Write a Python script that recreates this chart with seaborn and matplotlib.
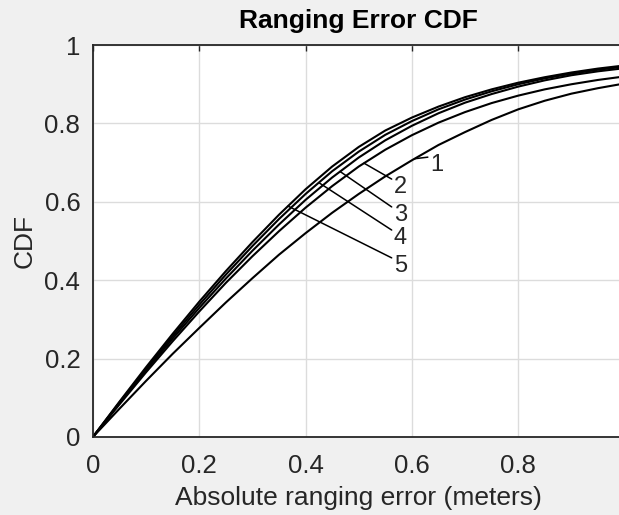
import numpy as np
import pandas as pd
import seaborn as sns
import matplotlib.pyplot as plt

# absolute ranging error (m) and CDF values
err = [0.0, 0.05, 0.1, 0.15, 0.2, 0.25, 0.3, 0.35, 0.4, 0.45, 0.5,
       0.55, 0.6, 0.65, 0.7, 0.75, 0.8, 0.85, 0.9, 0.95, 1.0]
cdf1 = [0, 0.072, 0.143, 0.212, 0.278, 0.343, 0.405, 0.465, 0.52, 0.572, 0.62,
        0.665, 0.706, 0.745, 0.778, 0.809, 0.836, 0.858, 0.876, 0.89, 0.902]
cdf2 = [0, 0.083, 0.165, 0.244, 0.32, 0.393, 0.461, 0.525, 0.585, 0.64, 0.69,
        0.733, 0.77, 0.802, 0.829, 0.852, 0.871, 0.887, 0.9, 0.911, 0.92]
cdf3 = [0, 0.086, 0.17, 0.251, 0.329, 0.404, 0.475, 0.542, 0.605, 0.662, 0.713,
        0.757, 0.794, 0.826, 0.853, 0.875, 0.894, 0.91, 0.923, 0.933, 0.941]
cdf4 = [0, 0.088, 0.174, 0.257, 0.337, 0.414, 0.487, 0.556, 0.62, 0.678, 0.728,
        0.771, 0.806, 0.836, 0.861, 0.882, 0.9, 0.915, 0.927, 0.937, 0.945]
cdf5 = [0, 0.09, 0.178, 0.263, 0.345, 0.423, 0.497, 0.567, 0.632, 0.69, 0.74,
        0.782, 0.815, 0.843, 0.867, 0.887, 0.904, 0.918, 0.93, 0.94, 0.948]
labels = ["1", "2", "3", "4", "5"]

df = pd.DataFrame({"err": err * 5,
                   "cdf": cdf1 + cdf2 + cdf3 + cdf4 + cdf5,
                   "curve": [l for l in labels for _ in err]})

sns.set_style("white")
plt.rcParams['font.family'] = ['Liberation Sans', 'DejaVu Sans']

fig = plt.figure(figsize=(6.19, 5.15), dpi=100, facecolor='#f0f0f0')
ax = fig.add_axes([0.150, 0.1515, 0.859, 0.761])

sns.lineplot(data=df, x="err", y="cdf", hue="curve", palette=["k"] * 5,
             linewidth=1.5, legend=False, ax=ax)

# leader lines + labels
attach = {"1": 0.605, "2": 0.51, "3": 0.465, "4": 0.425, "5": 0.367}
ends = {"1": (0.63, 0.714), "2": (0.562, 0.658), "3": (0.562, 0.587),
        "4": (0.562, 0.528), "5": (0.562, 0.457)}
for lab in labels:
    sub = df[df.curve == lab]
    x0 = attach[lab]
    y0 = np.interp(x0, sub.err, sub.cdf)
    x1, y1 = ends[lab]
    ax.plot([x0, x1], [y0, y1], color='k', lw=1.1)
    ax.text(x1 + 0.004, y1 + 0.008, lab, fontsize=17, ha='left', va='top', color='#262626')

ax.set_xlim(0, 1)
ax.set_ylim(0, 1)
ax.set_xticks([0, 0.2, 0.4, 0.6, 0.8])
ax.set_xticklabels(["0", "0.2", "0.4", "0.6", "0.8"])
ax.set_yticks([0, 0.2, 0.4, 0.6, 0.8, 1])
ax.set_yticklabels(["0", "0.2", "0.4", "0.6", "0.8", "1"])
ax.grid(True, color='#dcdcdc', lw=1)
ax.tick_params(direction='in', length=4, width=1, colors='#262626', labelsize=18.5,
               top=True, right=True)
ax.tick_params(axis='x', pad=12)
ax.tick_params(axis='y', pad=9)
for s in ax.spines.values():
    s.set_color('#262626')
    s.set_linewidth(1.3)

ax.set_xlabel("Absolute ranging error (meters)", fontsize=19, color='#262626', labelpad=6)
ax.set_ylabel("CDF", fontsize=19, color='#262626', labelpad=6)
ax.set_title("Ranging Error CDF", fontsize=19, fontweight='bold', color='black', pad=12)

fig.savefig("out.png", dpi=100, facecolor=fig.get_facecolor())
